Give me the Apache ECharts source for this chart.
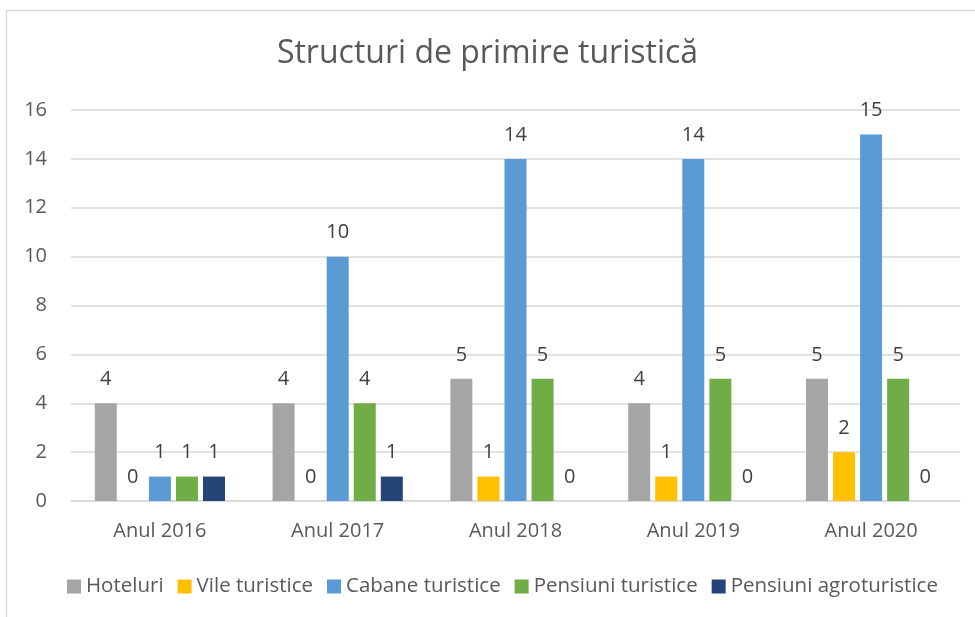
<!DOCTYPE html>
<html>
<head>
<meta charset="utf-8">
<script src="https://cdn.jsdelivr.net/npm/echarts@6/dist/echarts.min.js"></script>
<style>
  html, body { margin: 0; padding: 0; background: #fff; }
  #chart { width: 975px; height: 617px; }
</style>
</head>
<body>
<div id="chart"></div>
<script>
// Categories and series values
const categories = ['Anul 2016', 'Anul 2017', 'Anul 2018', 'Anul 2019', 'Anul 2020'];
const hoteluri = [4, 4, 5, 4, 5];
const vileTuristice = [0, 0, 1, 1, 2];
const cabaneTuristice = [1, 10, 14, 14, 15];
const pensiuniTuristice = [1, 4, 5, 5, 5];
const pensiuniAgroturistice = [1, 1, 0, 0, 0];
const yTicks = [0, 2, 4, 6, 8, 10, 12, 14, 16];

const seriesDefs = [
  { name: 'Hoteluri', data: hoteluri, color: '#A5A5A5' },
  { name: 'Vile turistice', data: vileTuristice, color: '#FFC000' },
  { name: 'Cabane turistice', data: cabaneTuristice, color: '#5B9BD5' },
  { name: 'Pensiuni turistice', data: pensiuniTuristice, color: '#70AD47' },
  { name: 'Pensiuni agroturistice', data: pensiuniAgroturistice, color: '#264478' }
];

const font = '"Open Sans", "Noto Sans", sans-serif';

const chart = echarts.init(document.getElementById('chart'), null, { renderer: 'canvas' });
chart.setOption({
  backgroundColor: '#fff',
  animation: false,
  textStyle: { fontFamily: font },
  graphic: [{
    type: 'rect',
    shape: { x: 6.5, y: 10.5, width: 1000, height: 700 },
    style: { fill: 'none', stroke: '#d9d9d9', lineWidth: 1.5 },
    silent: true
  }],
  title: {
    text: 'Structuri de primire turistică',
    left: 'center',
    top: 33,
    textStyle: { fontFamily: font, fontSize: 32, fontWeight: 'normal', color: '#595959' }
  },
  legend: {
    bottom: 15,
    left: 62,
    itemWidth: 14,
    itemHeight: 14,
    itemGap: 14,
    icon: 'rect',
    textStyle: { fontFamily: font, fontSize: 20.5, color: '#595959' },
    data: seriesDefs.map(s => s.name)
  },
  grid: { left: 71, right: 15, top: 110, bottom: 116 },
  xAxis: {
    type: 'category',
    data: categories,
    axisLine: { lineStyle: { color: '#d9d9d9', width: 1.5 } },
    axisTick: { show: false },
    axisLabel: { margin: 20, fontFamily: font, fontSize: 20, color: '#595959' }
  },
  yAxis: {
    type: 'value',
    min: yTicks[0],
    max: yTicks[yTicks.length - 1],
    interval: 2,
    axisLine: { show: false },
    axisTick: { show: false },
    splitLine: { lineStyle: { color: '#d9d9d9', width: 1.5 } },
    axisLabel: { margin: 24, fontFamily: font, fontSize: 20, color: '#595959' }
  },
  series: seriesDefs.map(s => ({
    name: s.name,
    type: 'bar',
    data: s.data,
    barWidth: 22,
    barGap: '23%',
    itemStyle: { color: s.color },
    label: {
      show: true,
      position: 'top',
      distance: 14,
      fontFamily: font,
      fontSize: 20,
      color: '#404040'
    }
  }))
});
</script>
</body>
</html>
